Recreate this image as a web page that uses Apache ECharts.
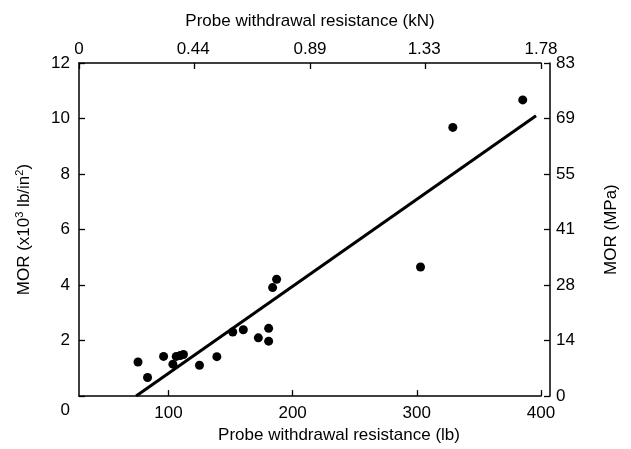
<!DOCTYPE html>
<html>
<head>
<meta charset="utf-8">
<title>MOR vs probe withdrawal resistance</title>
<script src="https://cdn.jsdelivr.net/npm/echarts@6/dist/echarts.min.js"></script>
<style>
    html, body { margin: 0; padding: 0; background: #fff; }
    #chart { width: 631px; height: 449px; }
</style>
</head>
<body>
<div id="chart"></div>
<script>
// probe withdrawal resistance (lb) and MOR (x10^3 lb/in^2) for each specimen
var withdrawalLb = [75.5, 83.2, 96.1, 103.6, 106.3, 109.5, 112.1, 125, 139, 151.8, 160.3, 172.4, 180.7, 180.7, 183.9, 187.1, 303, 329, 385.3];
var morKsi = [1.23, 0.67, 1.43, 1.15, 1.43, 1.46, 1.5, 1.11, 1.42, 2.31, 2.39, 2.10, 2.44, 1.98, 3.91, 4.21, 4.65, 9.68, 10.67];

// fitted line end points
var fitLb = [74, 396];
var fitKsi = [0, 10.1];

// tick labels
var lbTicks = [100, 200, 300, 400];
var kNTicks = [0, 0.44, 0.89, 1.33, 1.78];
var kNLabels = ['0', '0.44', '0.89', '1.33', '1.78'];
var mpaLabels = ['0', '14', '28', '41', '55', '69', '83'];

(function (window) {
    var FONT = "'Liberation Sans', Arial, Helvetica, sans-serif";
    var INK = '#000';

    var chart = echarts.init(document.getElementById('chart'), null, { renderer: 'canvas' });

    function zip(xs, ys) {
        return xs.map(function (x, i) { return [x, ys[i]]; });
    }

    // onZero off, otherwise the top axis ticks get pulled down to y = 0
    function axisLine() {
        return { show: true, onZero: false, lineStyle: { color: INK, width: 1.5 } };
    }

    // ticks point into the plot on every side
    function tick(values) {
        var t = { show: true, inside: false, length: -6, lineStyle: { color: INK, width: 1.3 } };
        if (values) {
            t.customValues = values;
        }
        return t;
    }

    function nameStyle(extra) {
        var s = {
            color: INK,
            fontFamily: FONT,
            fontSize: 17,
            rich: {
                sup: { fontFamily: FONT, fontSize: 11, color: INK, padding: [0, 0, 9, 0] }
            }
        };
        return Object.assign(s, extra || {});
    }

    chart.setOption({
        animation: false,
        backgroundColor: '#fff',
        textStyle: { fontFamily: FONT, color: INK },
        grid: { left: 79, right: 90, top: 63, bottom: 50 },
        xAxis: [{
            type: 'value',
            position: 'bottom',
            min: 28,
            max: 400,
            name: 'Probe withdrawal resistance (lb)',
            nameLocation: 'middle',
            nameGap: 30,
            nameTextStyle: nameStyle({ padding: [0, 0, 0, 58] }),
            splitLine: { show: false },
            axisLine: axisLine(),
            axisTick: tick(lbTicks),
            axisLabel: {
                color: INK, fontFamily: FONT, fontSize: 17, margin: 9,
                customValues: lbTicks
            }
        }, {
            // ticks every 0.445 kN (= 100 lb), labels rounded as printed
            type: 'value',
            position: 'top',
            min: 0,
            max: 1.78,
            interval: 0.445,
            name: 'Probe withdrawal resistance (kN)',
            nameLocation: 'middle',
            nameGap: 33,
            nameTextStyle: nameStyle(),
            splitLine: { show: false },
            axisLine: axisLine(),
            axisTick: tick(),
            axisLabel: {
                color: INK, fontFamily: FONT, fontSize: 17, margin: 5,
                customValues: kNTicks,
                formatter: function (v) {
                    var i = kNTicks.indexOf(v);
                    return i >= 0 ? kNLabels[i] : '';
                }
            }
        }],
        yAxis: [{
            type: 'value',
            position: 'left',
            min: 0,
            max: 12,
            interval: 2,
            name: 'MOR (x10{sup|3} lb/in{sup|2})',
            nameLocation: 'middle',
            nameRotate: 90,
            nameGap: 45,
            nameTextStyle: nameStyle(),
            splitLine: { show: false },
            axisLine: axisLine(),
            axisTick: tick(),
            axisLabel: {
                color: INK, fontFamily: FONT, fontSize: 17, margin: 9,
                formatter: function (v) {
                    // the zero sits down in the corner, level with the x labels
                    return v === 0 ? '{z|0}' : String(v);
                },
                rich: { z: { fontFamily: FONT, fontSize: 17, color: INK, padding: [28, 0, 0, 0] } }
            }
        }, {
            type: 'value',
            position: 'right',
            offset: 9,
            min: 0,
            max: 12,
            interval: 2,
            name: 'MOR (MPa)',
            nameLocation: 'middle',
            nameRotate: 90,
            nameGap: 53,
            nameTextStyle: nameStyle(),
            splitLine: { show: false },
            axisLine: axisLine(),
            axisTick: tick(),
            axisLabel: {
                color: INK, fontFamily: FONT, fontSize: 17, margin: 6,
                formatter: function (v) {
                    return mpaLabels[Math.round(v / 2)];
                }
            }
        }],
        series: [{
            type: 'scatter',
            xAxisIndex: 0,
            yAxisIndex: 0,
            symbol: 'circle',
            symbolSize: 9,
            itemStyle: { color: INK, opacity: 1 },
            data: zip(withdrawalLb, morKsi)
        }, {
            type: 'line',
            xAxisIndex: 0,
            yAxisIndex: 0,
            symbol: 'none',
            lineStyle: { color: INK, width: 3 },
            data: zip(fitLb, fitKsi)
        }]
    });
})(window);
</script>
</body>
</html>
